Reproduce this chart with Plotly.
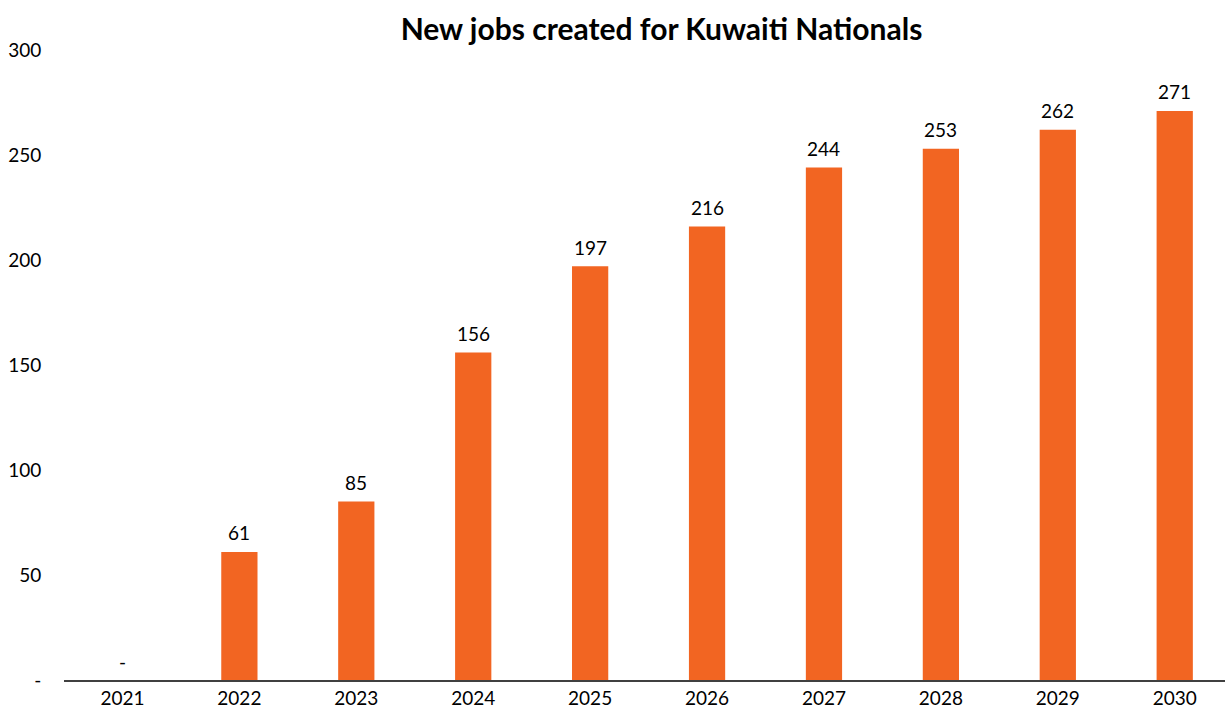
import plotly.graph_objects as go

years = ["2021", "2022", "2023", "2024", "2025", "2026", "2027", "2028", "2029", "2030"]
jobs = [0, 61, 85, 156, 197, 216, 244, 253, 262, 271]
y_ticks = [0, 50, 100, 150, 200, 250, 300]
y_tick_labels = ["-", "50", "100", "150", "200", "250", "300"]

bar_color = "#F26522"
labels = ["-" if v == 0 else str(v) for v in jobs]

fig = go.Figure(
    go.Bar(
        x=years,
        y=jobs,
        marker=dict(color=bar_color, line=dict(width=0)),
        cliponaxis=False,
        hoverinfo="x+y",
    )
)

# value labels sitting just above each bar (category position by index)
for i, (v, lab) in enumerate(zip(jobs, labels)):
    fig.add_annotation(
        x=i,
        y=v,
        xref="x",
        yref="y",
        text=lab,
        showarrow=False,
        xanchor="center",
        yanchor="middle",
        yshift=19,
        font=dict(family="Lato", size=19, color="#000000"),
    )

fig.update_layout(
    width=1225,
    height=713,
    margin=dict(l=64, r=0, t=50, b=33),
    paper_bgcolor="white",
    plot_bgcolor="white",
    bargap=0.69,
    showlegend=False,
    font=dict(family="Lato", size=19, color="#000000"),
    title=dict(
        text="<b>New jobs created for Kuwaiti Nationals</b>",
        x=0.54,
        xanchor="center",
        y=0.958,
        yanchor="middle",
        font=dict(family="Lato", size=30, color="#000000"),
    ),
)

fig.update_xaxes(
    type="category",
    range=[-0.5, 9.43],
    showgrid=False,
    showline=True,
    linecolor="#404040",
    linewidth=1.5,
    ticks="",
    tickfont=dict(family="Lato", size=19, color="#000000"),
)

fig.update_yaxes(
    range=[0, 300],
    tickvals=y_ticks,
    ticktext=y_tick_labels,
    showgrid=False,
    zeroline=False,
    showline=False,
    ticks="outside",
    ticklen=18,
    tickcolor="rgba(0,0,0,0)",
    tickfont=dict(family="Lato", size=19, color="#000000"),
)

fig.write_html("out.html")
